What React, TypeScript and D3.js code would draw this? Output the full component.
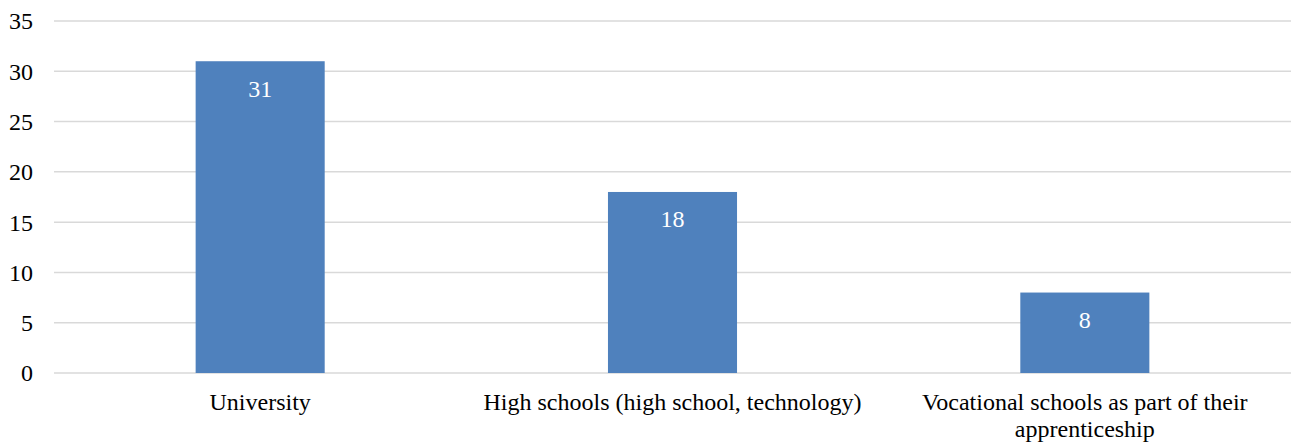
import React, { useEffect, useRef } from "react";
import * as d3 from "d3";

const categories: string[] = [
  "University",
  "High schools (high school, technology)",
  "Vocational schools as part of their apprenticeship",
];
const values: number[] = [31, 18, 8];
const yTicks: number[] = [0, 5, 10, 15, 20, 25, 30, 35];

const W = 1294;
const H = 444;
const FONT = "Liberation Serif, Times New Roman, Times, serif";
const FONT_SIZE = "24px";

export default function App() {
  const ref = useRef<SVGSVGElement | null>(null);

  useEffect(() => {
    const svg = d3.select(ref.current);
    svg.selectAll("*").remove();

    const left = 54;
    const right = 1291;
    const top = 21;
    const bottom = 373;

    const x = d3.scaleBand<string>().domain(categories).range([left, right]).padding(0);
    const y = d3.scaleLinear().domain([0, 35]).range([bottom, top]);
    const barW = x.bandwidth() * 0.313;

    // horizontal gridlines
    svg
      .append("g")
      .selectAll("line")
      .data(yTicks)
      .join("line")
      .attr("x1", left)
      .attr("x2", right)
      .attr("y1", (d) => y(d))
      .attr("y2", (d) => y(d))
      .attr("stroke", "#d9d9d9")
      .attr("stroke-width", 1.5);

    // y tick labels
    svg
      .append("g")
      .selectAll("text")
      .data(yTicks)
      .join("text")
      .attr("x", 33)
      .attr("y", (d) => y(d))
      .attr("dy", "0.35em")
      .attr("text-anchor", "end")
      .style("font-family", FONT)
      .style("font-size", FONT_SIZE)
      .attr("fill", "#000")
      .text((d) => String(d));

    // bars
    svg
      .append("g")
      .selectAll("rect")
      .data(values)
      .join("rect")
      .attr("x", (_, i) => (x(categories[i]) as number) + x.bandwidth() / 2 - barW / 2)
      .attr("y", (d) => y(d))
      .attr("width", barW)
      .attr("height", (d) => bottom - y(d))
      .attr("fill", "#4f81bd");

    // value labels inside bars
    svg
      .append("g")
      .selectAll("text")
      .data(values)
      .join("text")
      .attr("x", (_, i) => (x(categories[i]) as number) + x.bandwidth() / 2)
      .attr("y", (d) => y(d) + 35.5)
      .attr("text-anchor", "middle")
      .style("font-family", FONT)
      .style("font-size", FONT_SIZE)
      .attr("fill", "#ffffff")
      .text((d) => String(d));

    // category labels, wrapped to the band width
    const maxW = x.bandwidth();
    categories.forEach((c) => {
      const cx = (x(c) as number) + x.bandwidth() / 2;
      const t = svg
        .append("text")
        .attr("x", cx)
        .attr("y", 410)
        .attr("text-anchor", "middle")
        .style("font-family", FONT)
        .style("font-size", FONT_SIZE)
        .attr("fill", "#000");
      const words = c.split(" ");
      let line: string[] = [];
      let tspan = t.append("tspan").attr("x", cx).attr("dy", 0);
      words.forEach((w) => {
        line.push(w);
        tspan.text(line.join(" "));
        const node = tspan.node() as SVGTSpanElement;
        if (node.getComputedTextLength() > maxW && line.length > 1) {
          line.pop();
          tspan.text(line.join(" "));
          line = [w];
          tspan = t.append("tspan").attr("x", cx).attr("dy", 27).text(w);
        }
      });
    });
  }, []);

  return (
    <svg
      ref={ref}
      width={W}
      height={H}
      style={{ position: "absolute", left: 0, top: 0, background: "#fff" }}
    />
  );
}
